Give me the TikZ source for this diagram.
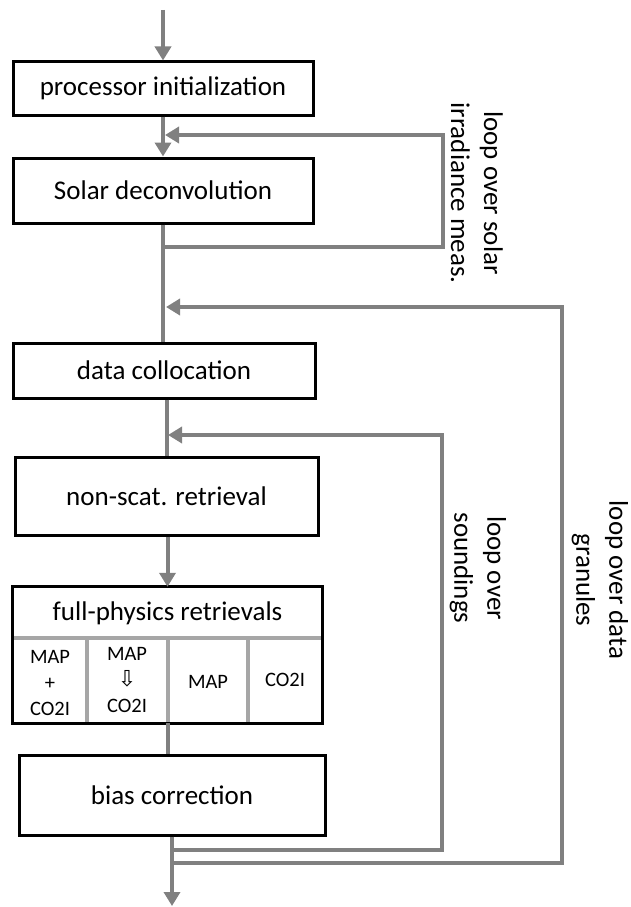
\documentclass[tikz,border=0pt]{standalone}
\usepackage{fontspec}
\setmainfont{Carlito}
\newfontfamily\arrowfont{DejaVu Sans}
\usetikzlibrary{arrows.meta}
\definecolor{flow}{HTML}{808080}
\definecolor{cellsep}{HTML}{A6A6A6}
\begin{document}
\begin{tikzpicture}[x=1pt,y=-1pt,
  stepbox/.style={draw=black,line width=3pt,fill=white,inner sep=0pt,
    font=\fontsize{27}{30}\selectfont},
  flowline/.style={draw=flow,line width=4pt},
  flowarrow/.style={flowline,-{Triangle[length=14pt,width=16pt]}},
  looplabel/.style={rotate=-90,align=center,inner sep=0pt,
    font=\fontsize{27}{33}\selectfont},
  celltext/.style={align=center,inner sep=0pt,
    font=\fontsize{20.5}{26}\selectfont},
  cellline/.style={draw=cellsep,line width=3.5pt}]
\useasboundingbox (0,0) rectangle (630,907);

% processing steps
\node[stepbox,minimum width=300pt,minimum height=53pt] (init) at (163,88.5) {processor initialization};
\node[stepbox,minimum width=300pt,minimum height=65pt] (solar) at (163,190.5) {Solar deconvolution};
\node[stepbox,minimum width=302pt,minimum height=55pt] (coll) at (164,370.5) {data collocation};
\node[stepbox,minimum width=303pt,minimum height=78pt] (nonscat) at (166.5,496) {non-scat. retrieval};
\node[stepbox,minimum width=306pt,minimum height=80pt] (bias) at (172,795) {bias correction};

% full-physics block with its four retrieval variants
\node[minimum width=309pt,minimum height=136pt,inner sep=0pt,fill=white] (fp) at (167.5,655) {};
\node[inner sep=0pt,font=\fontsize{27}{30}\selectfont] (fphead) at (167.5,613) {full-physics retrievals};
\coordinate (sepW) at (13,638);
\coordinate (sepE) at (322,638);
\draw[cellline] (sepW) -- (sepE);
\coordinate (v1t) at (87,638);   \coordinate (v1b) at (87,723);
\coordinate (v2t) at (168,638);  \coordinate (v2b) at (168,723);
\coordinate (v3t) at (248,638);  \coordinate (v3b) at (248,723);
\draw[cellline] (v1t) -- (v1b);
\draw[cellline] (v2t) -- (v2b);
\draw[cellline] (v3t) -- (v3b);
\draw[black,line width=3pt] (fp.north west) rectangle (fp.south east);
\node[celltext] (c1) at (50,683) {MAP\\+\\CO2I};
\node[celltext] (c2) at (127,680) {MAP\\{\arrowfont\fontsize{22}{26}\selectfont ⇩}\\CO2I};
\node[celltext] (c3) at (208,682) {MAP};
\node[celltext] (c4) at (285,680) {CO2I};

% main flow
\coordinate (start) at (163,10);
\coordinate (finish) at (172,906);
\draw[flowarrow] (start) -- (init.north);
\draw[flowarrow] (init.south) -- (solar.north);
\draw[flowline] (solar.south) -- (solar.south |- coll.north);
\draw[flowline] (coll.south -| nonscat.north) -- (nonscat.north);
\draw[flowarrow] (nonscat.south -| fp.north) -- (fp.north);
\draw[flowline] (fp.south) -- (fp.south |- bias.north);
\draw[flowarrow] (bias.south) -- (finish);

% loop over solar irradiance measurements
\coordinate (solOut) at (163,247);
\coordinate (solTurn) at (443,135);
\coordinate (solIn) at (165,135);
\draw[flowarrow] (solOut) -| (solTurn) -- (solIn);

% loop over soundings
\coordinate (sndOut) at (172,850);
\coordinate (sndTurn) at (442,435);
\coordinate (sndIn) at (168,435);
\draw[flowarrow] (sndOut) -| (sndTurn) -- (sndIn);

% loop over data granules
\coordinate (grnOut) at (172,863);
\coordinate (grnTurn) at (562,307);
\coordinate (grnIn) at (166,307);
\draw[flowarrow] (grnOut) -| (grnTurn) -- (grnIn);

% loop labels
\node[looplabel] (solLbl) at (477,193) {loop over solar\\irradiance meas.};
\node[looplabel] (sndLbl) at (478,568) {loop over\\soundings};
\node[looplabel] (grnLbl) at (600,580) {loop over data\\granules};
\end{tikzpicture}
\end{document}
